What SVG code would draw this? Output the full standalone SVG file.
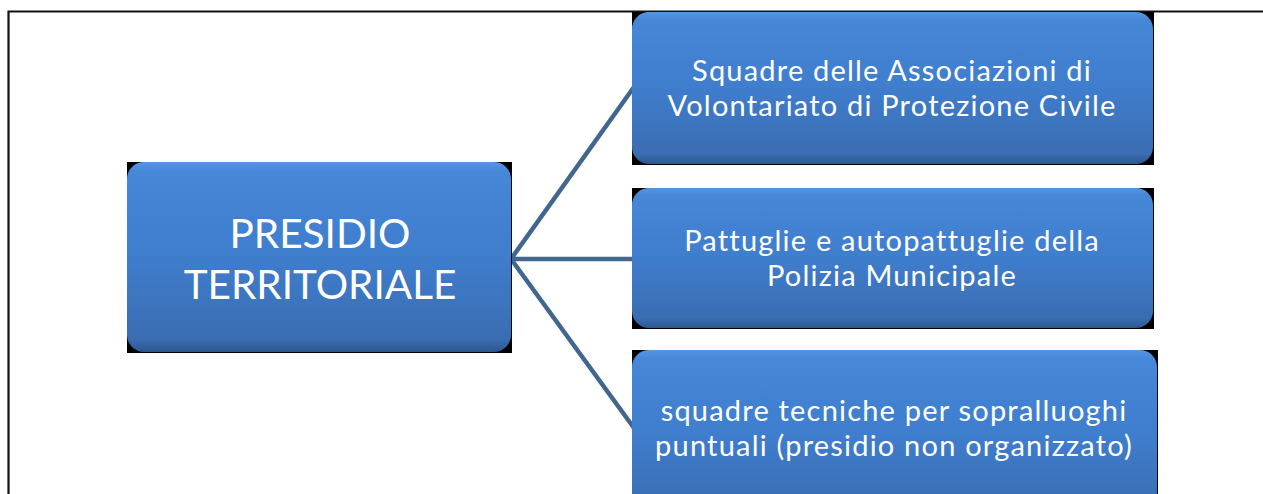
<svg xmlns="http://www.w3.org/2000/svg" width="1263" height="494" viewBox="0 0 1263 494">
<style>
.shadow{fill:#000}
.box{fill:url(#g)}
.t{font-family:Lato,"Open Sans","Liberation Sans",sans-serif;fill:#fff;text-anchor:middle}
.big{font-size:40.5px}
.small{font-size:29px;letter-spacing:1.2px}
.conn{stroke:#41668F;stroke-width:4.5;fill:none;stroke-linecap:round}
</style>
<defs>
<linearGradient id="g" x1="0" y1="0" x2="0" y2="1">
<stop offset="0" stop-color="#5496E6"/>
<stop offset="0.05" stop-color="#4687D8"/>
<stop offset="0.5" stop-color="#3F7DCD"/>
<stop offset="0.93" stop-color="#3A6DB2"/>
<stop offset="1" stop-color="#2C5890"/>
</linearGradient>
</defs>
<rect x="0" y="0" width="1263" height="494" fill="#fff"/>
<path d="M8.5 494 V11.5 H1263" fill="none" stroke="#111" stroke-width="2.2"/>
<g id="connectors">
<line class="conn" x1="511" y1="259" x2="634" y2="87"/>
<line class="conn" x1="511" y1="259" x2="634" y2="259"/>
<line class="conn" x1="511" y1="259" x2="634" y2="428"/>
</g>
<g id="node-presidio">
<rect class="shadow" x="127" y="162" width="385" height="191"/>
<rect class="box" x="127" y="162" width="384" height="190" rx="17"/>
<text class="t big" x="320" y="248">PRESIDIO</text>
<text class="t big" x="320" y="299">TERRITORIALE</text>
</g>
<g id="node-squadre">
<rect class="shadow" x="632" y="12" width="522" height="153"/>
<rect class="box" x="632" y="12" width="521" height="152" rx="17"/>
<text class="t small" x="892" y="81">Squadre delle Associazioni di</text>
<text class="t small" x="892" y="116">Volontariato di Protezione Civile</text>
</g>
<g id="node-pattuglie">
<rect class="shadow" x="632" y="188" width="522" height="141"/>
<rect class="box" x="632" y="188" width="521" height="140" rx="17"/>
<text class="t small" x="892" y="251">Pattuglie e autopattuglie della</text>
<text class="t small" x="892" y="286">Polizia Municipale</text>
</g>
<g id="node-tecniche">
<rect class="shadow" x="632" y="350" width="526" height="150"/>
<rect class="box" x="632" y="350" width="525" height="170" rx="17"/>
<text class="t small" x="894" y="421">squadre tecniche per sopralluoghi</text>
<text class="t small" x="894" y="456">puntuali (presidio non organizzato)</text>
</g>
</svg>
